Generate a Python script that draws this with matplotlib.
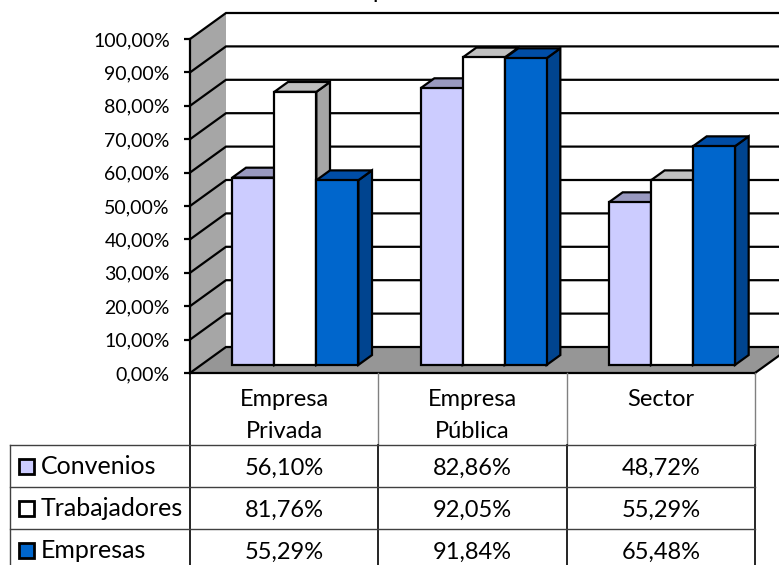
import matplotlib
matplotlib.use('Agg')
import matplotlib.pyplot as plt
from matplotlib.patches import Polygon, Rectangle

categories = ['Empresa\nPrivada', 'Empresa\nPública', 'Sector']
series = ['Convenios', 'Trabajadores', 'Empresas']
convenios = [56.10, 82.86, 48.72]
trabajadores = [81.76, 92.05, 55.29]
empresas = [55.29, 91.84, 65.48]
y_ticks = [0, 10, 20, 30, 40, 50, 60, 70, 80, 90, 100]

values = [convenios, trabajadores, empresas]
# frente, tapa, lateral de cada serie
colors = [('#CCCCFF', '#9999C0', '#8080A8'),
          ('#FFFFFF', '#C0C0C0', '#A6A6A6'),
          ('#0066CC', '#004DA6', '#00448F')]

W, H = 779, 565
plt.rcParams['font.family'] = ['Lato', 'DejaVu Sans']
FS_TICK = 14
FS_TABLE = 17
FS_ROW = 18
LW = 1.6

fig = plt.figure(figsize=(W / 100, H / 100), dpi=100)
ax = fig.add_axes([190 / W, 1 - 373 / H, 565 / W, 334 / H])
ax.set_xlim(0, 3)
ax.set_ylim(0, 100)
ax.patch.set_visible(False)

# desplazamiento de profundidad en unidades de datos
DX = 36 / 565 * 3
DY = 26 / 334 * 100
BAR_W = 42 / 565 * 3
D_FRONT, D_BACK = 0.31, 0.69


def poly(points, color, z, lw=LW):
    ax.add_patch(Polygon(points, closed=True, facecolor=color, edgecolor='black',
                         linewidth=lw, joinstyle='miter', zorder=z, clip_on=False))


# paredes y suelo
ax.add_patch(Polygon([(0, 0), (DX, DY), (DX, 100 + DY), (0, 100)], closed=True,
                     facecolor='#A6A6A6', edgecolor='none', zorder=1, clip_on=False))
ax.add_patch(Polygon([(0, 0), (3, 0), (3 + DX, DY), (DX, DY)], closed=True,
                     facecolor='#969696', edgecolor='none', zorder=1, clip_on=False))
for t in y_ticks:
    ax.plot([0, DX, 3 + DX], [t, t + DY, t + DY], color='black', lw=LW, zorder=2,
            clip_on=False, solid_joinstyle='miter')
ax.plot([3, 3 + DX], [0, DY], color='black', lw=LW, zorder=2, clip_on=False)

# barras, de izquierda a derecha
z = 3
for c in range(len(categories)):
    for s in range(len(series)):
        v = values[s][c]
        x0 = c + 0.5 + (s - 1.5) * BAR_W + D_FRONT * DX
        x1 = x0 + BAR_W
        y0 = D_FRONT * DY
        y1 = y0 + v
        dx = (D_BACK - D_FRONT) * DX
        dy = (D_BACK - D_FRONT) * DY
        front, top, side = colors[s]
        poly([(x1, y0), (x1 + dx, y0 + dy), (x1 + dx, y1 + dy), (x1, y1)], side, z)
        poly([(x0, y1), (x1, y1), (x1 + dx, y1 + dy), (x0 + dx, y1 + dy)], top, z)
        poly([(x0, y0), (x1, y0), (x1, y1), (x0, y1)], front, z)
        z += 1

# ejes
for name in ['top', 'right']:
    ax.spines[name].set_visible(False)
ax.spines['left'].set_linewidth(LW)
ax.spines['bottom'].set_linewidth(LW)
ax.spines['left'].set_zorder(50)
ax.spines['bottom'].set_zorder(50)
ax.set_xticks([])
ax.set_yticks(y_ticks)
ax.yaxis.set_major_formatter(lambda t, pos: ('%.2f%%' % t).replace('.', ','))
ax.tick_params(axis='y', length=4.5, width=LW, pad=10, labelsize=FS_TICK, labelcolor='black')

# tabla de datos en pixeles
tb = fig.add_axes([0, 0, 1, 1])
tb.set_xlim(0, W)
tb.set_ylim(H, 0)
tb.axis('off')
tb.patch.set_visible(False)

col_x = [190, 378, 567, 755]
row_y = [445, 487, 529]
tb.plot([190, 190], [373, H], color='black', lw=1.2)
for x in col_x[1:]:
    tb.plot([x, x], [373, 445], color='#808080', lw=1.0)
    tb.plot([x, x], [445, H], color='black', lw=1.2)
tb.plot([10, 10], [445, H], color='#404040', lw=1.0)
for y in row_y:
    tb.plot([10, 755], [y, y], color='#404040', lw=1.0)

for i, cat in enumerate(categories):
    xc = (col_x[i] + col_x[i + 1]) / 2
    for j, line in enumerate(cat.split('\n')):
        tb.text(xc, 400 + j * 32, line, ha='center', va='center', fontsize=FS_TABLE)

for r, name in enumerate(series):
    yc = 466 + r * 42
    tb.add_patch(Rectangle((19.5, yc - 7.5), 15, 15, facecolor=colors[r][0],
                           edgecolor='black', linewidth=2.0))
    tb.text(41, yc + 1, name, ha='left', va='center', fontsize=FS_ROW)
    for i in range(len(categories)):
        xc = (col_x[i] + col_x[i + 1]) / 2
        tb.text(xc, yc + 2, ('%.2f%%' % values[r][i]).replace('.', ','), ha='center',
                va='center', fontsize=FS_TABLE)

# resto del titulo, cortado por el borde superior
tb.text(372, -2.5, 'p', ha='left', va='baseline', fontsize=FS_TABLE)

fig.savefig('out.png', dpi=100, facecolor='white')
